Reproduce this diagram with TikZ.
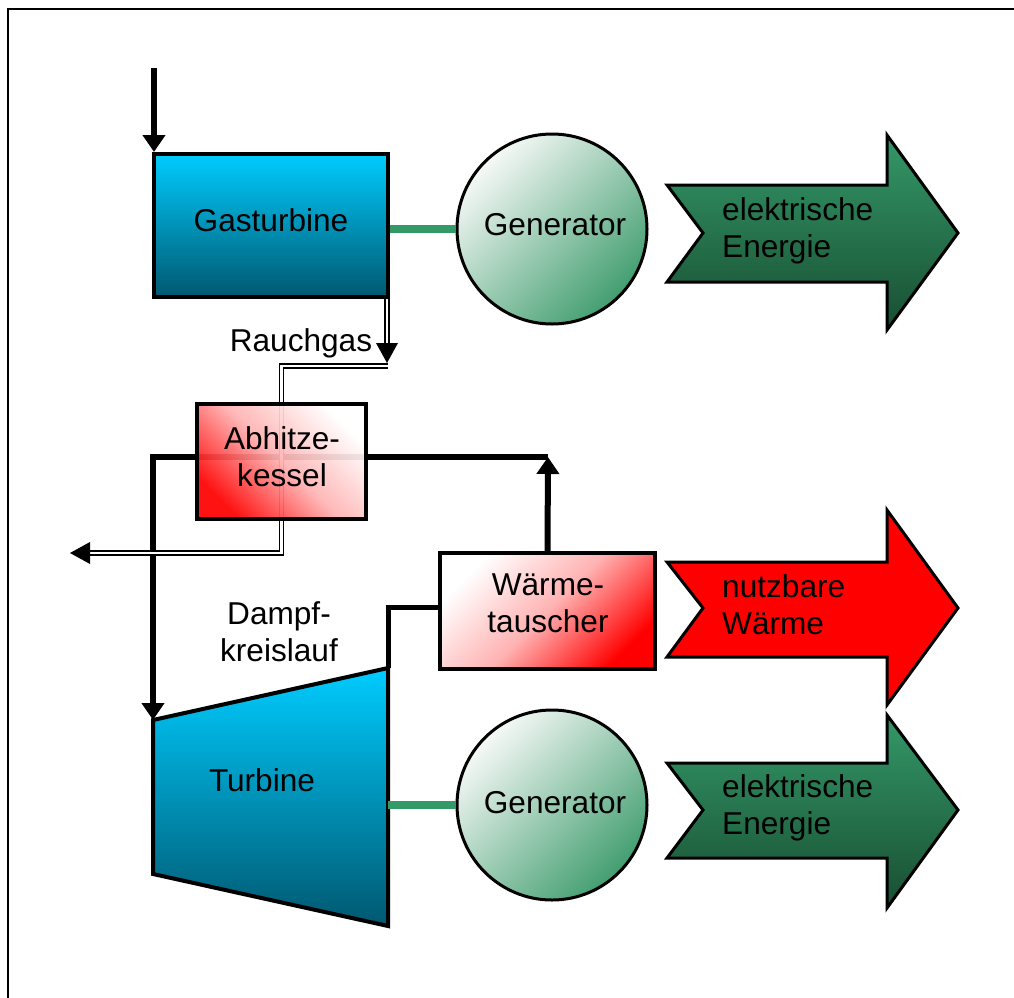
\documentclass[tikz,border=0pt]{standalone}
\usepackage{fontspec}
\setmainfont{Liberation Sans}
\usetikzlibrary{arrows.meta}

\definecolor{cyantop}{RGB}{0,204,255}
\definecolor{tealbot}{RGB}{0,88,112}
\definecolor{flowgreen}{RGB}{52,152,104}
\definecolor{flowdark}{RGB}{24,78,50}
\definecolor{genlight}{RGB}{246,249,247}
\definecolor{gengreen}{RGB}{66,158,112}
\definecolor{linkgreen}{RGB}{51,153,102}
\definecolor{hotred}{RGB}{255,0,0}
\definecolor{pinkmid}{RGB}{255,178,178}

\begin{document}
\begin{tikzpicture}[x=1bp,y=-1bp,
  every node/.style={font=\fontsize{31.6bp}{37bp}\selectfont, inner sep=0pt, align=center},
  turbobox/.style={draw=black, line width=4bp, top color=cyantop, bottom color=tealbot},
  genbox/.style={circle, draw=black, line width=3bp, minimum size=190bp,
    top color=genlight, bottom color=gengreen, shading angle=45},
  heatbox/.style={draw=black, line width=3.5bp, top color=white, bottom color=hotred,
    middle color=pinkmid},
  shaft/.style={line width=8bp, draw=linkgreen},
  steam/.style={line width=6bp, draw=black},
  steamarrow/.style={steam, -{Triangle[length=17bp,width=22bp]}},
  flue/.style={draw=black, line width=1.6bp, double=white, double distance=2.6bp},
  flowshape/.style={draw=black, line width=3bp, line join=miter},
]
\useasboundingbox (0,0) rectangle (1014,998);
\fill[white] (0,0) rectangle (1014,998);

% frame
\draw[line width=2.5bp] (8,998) -- (8,9) -- (1014,9);

% gas turbine and its generator
\node[turbobox, minimum width=234bp, minimum height=143bp] (gt) at (271,225.5) {};
\node (gt-text) at (271,220) {Gasturbine};
\node[genbox] (g1) at (552,229) {};
\node (g1-text) at (555,225) {Generator};
\draw[shaft] (g1.west -| gt.east) -- (g1.west);

% fuel input
\path (gt.north west) ++(2,-84) coordinate (fuel);
\draw[steamarrow] (fuel) -- (fuel |- gt.north);

% steam turbine outline
\coordinate (turb-nw) at (153,720);
\coordinate (turb-ne) at (388,668);
\coordinate (turb-se) at (388,926);
\coordinate (turb-sw) at (153,874);
\draw[line width=4bp, line join=miter, top color=cyantop, bottom color=tealbot]
  (turb-nw) -- (turb-ne) -- (turb-se) -- (turb-sw) -- cycle;
\node (turb) at (262,780) {Turbine};
\node[genbox] (g2) at (552,805) {};
\node (g2-text) at (555,803) {Generator};
\draw[shaft] (g2.west -| turb-ne) -- (g2.west);

% heat exchanger
\node[heatbox, shading angle=45, minimum width=215bp, minimum height=116bp] (wt) at (547.5,611) {};
\node (wt-text) at (548,603) {Wärme-\\tauscher};

% steam cycle
\coordinate (jn) at (548,457);
\draw[steamarrow] (wt.north) -- (jn);
\draw[steamarrow] (jn) -| (turb-nw);
\draw[line width=5bp] ([yshift=4bp]wt.west) -| (turb-ne);

% flue gas path
\coordinate (rg-tip) at (387,363);
\coordinate (rg-bend) at (388,366);
\coordinate (flue-down) at (281.5,553);
\coordinate (exhaust) at (70,553);
\draw[flue] (rg-tip |- gt.south) -- ([yshift=14bp]rg-tip);
\fill (rg-tip) -- ++(-11,-20) -- ++(22,0) -- cycle;
\draw[flue] (rg-bend) -| (flue-down) -- ([xshift=18bp]exhaust);
\fill (exhaust) -- ++(20,-11) -- ++(0,22) -- cycle;
\node (rg) at (301,343) {Rauchgas};

% heat recovery boiler
\node[heatbox, shading angle=-45, fill opacity=0.93,
  minimum width=169bp, minimum height=115bp] (hk) at (281.5,461.5) {};
\node (hk-text) at (282,457) {Abhitze-\\kessel};

\node (dk) at (279,632) {Dampf-\\kreislauf};

% output arrows
\draw[flowshape, top color=flowgreen, bottom color=flowdark, shift={(703,233)}]
  (-36,-48) -- (184,-48) -- (184,-98) -- (255,0) -- (184,97) -- (184,49) -- (-36,49) -- (0,0) -- cycle;
\node[anchor=west, align=left] (ee1) at (722,230.5) {elektrische\\Energie};

\draw[flowshape, fill=hotred, shift={(703,608)}]
  (-36,-46) -- (184,-46) -- (184,-98) -- (255,0) -- (184,97) -- (184,49) -- (-36,49) -- (0,0) -- cycle;
\node[anchor=west, align=left] (nw) at (722,605) {nutzbare\\Wärme};

\draw[flowshape, top color=flowgreen, bottom color=flowdark, shift={(703,810)}]
  (-36,-47) -- (184,-47) -- (184,-95) -- (255,0) -- (184,98) -- (184,48) -- (-36,48) -- (0,0) -- cycle;
\node[anchor=west, align=left] (ee2) at (722,808) {elektrische\\Energie};
\end{tikzpicture}
\end{document}
